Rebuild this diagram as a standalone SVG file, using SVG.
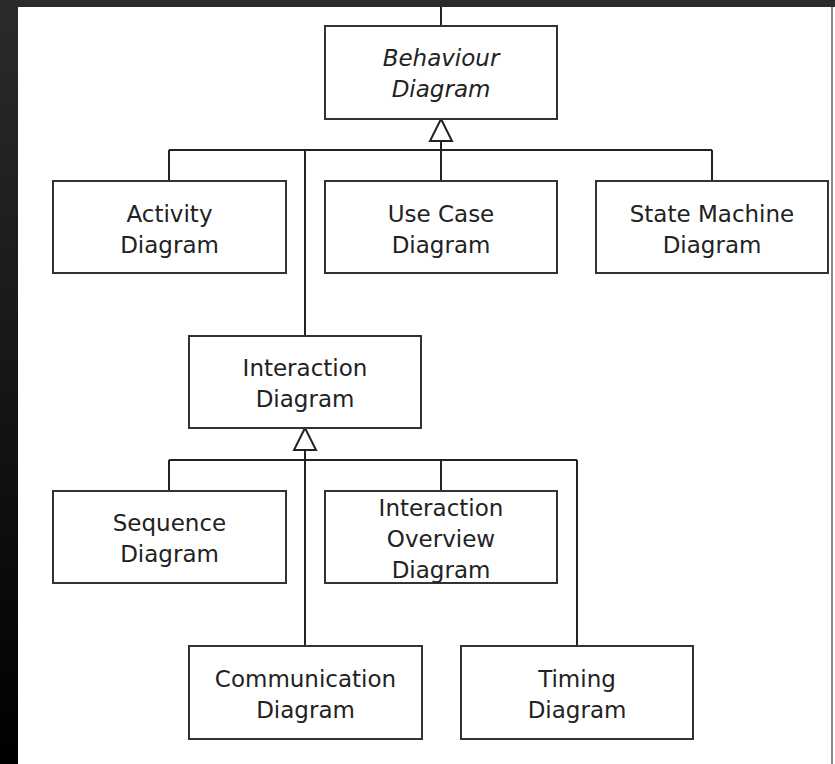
<svg xmlns="http://www.w3.org/2000/svg" width="835" height="764" viewBox="0 0 835 764">
<defs>
<linearGradient id="bg" x1="0" y1="0" x2="0" y2="1">
<stop offset="0" stop-color="#2b2b2b"/>
<stop offset="1" stop-color="#000000"/>
</linearGradient>
<style>
.box{fill:#fff;stroke:#333;stroke-width:2}
.t{font-family:"DejaVu Sans",sans-serif;font-size:23px;fill:#222;text-anchor:middle}
.it{font-style:italic}
.ln{stroke:#222;stroke-width:2;fill:none}
.tri{fill:#fff;stroke:#222;stroke-width:2;stroke-linejoin:miter}
</style>
</defs>
<rect x="0" y="0" width="835" height="764" fill="#fff"/>
<rect x="0" y="0" width="18" height="764" fill="url(#bg)"/>
<rect x="0" y="0" width="835" height="7" fill="#2b2b2b"/>
<line x1="832" y1="7" x2="832" y2="764" stroke="#8a8a8a" stroke-width="2"/>
<g id="connectors">
<line class="ln" x1="441" y1="7" x2="441" y2="26"/>
<line class="ln" x1="169" y1="150" x2="712" y2="150"/>
<line class="ln" x1="441" y1="141" x2="441" y2="181"/>
<line class="ln" x1="169" y1="150" x2="169" y2="181"/>
<line class="ln" x1="712" y1="150" x2="712" y2="181"/>
<line class="ln" x1="305" y1="150" x2="305" y2="336"/>
<polygon class="tri" points="441,119 452,141 430,141"/>
<line class="ln" x1="169" y1="460" x2="577" y2="460"/>
<line class="ln" x1="305" y1="450" x2="305" y2="646"/>
<line class="ln" x1="169" y1="460" x2="169" y2="491"/>
<line class="ln" x1="441" y1="460" x2="441" y2="491"/>
<line class="ln" x1="577" y1="460" x2="577" y2="646"/>
<polygon class="tri" points="305,428 316,450 294,450"/>
</g>
<g id="behaviour">
<rect class="box" x="325" y="26" width="232" height="93"/>
<text class="t it" x="441" y="66">Behaviour</text>
<text class="t it" x="441" y="97">Diagram</text>
</g>
<g id="activity">
<rect class="box" x="53" y="181" width="233" height="92"/>
<text class="t" x="169.5" y="222">Activity</text>
<text class="t" x="169.5" y="253">Diagram</text>
</g>
<g id="usecase">
<rect class="box" x="325" y="181" width="232" height="92"/>
<text class="t" x="441" y="222">Use Case</text>
<text class="t" x="441" y="253">Diagram</text>
</g>
<g id="statemachine">
<rect class="box" x="596" y="181" width="232" height="92"/>
<text class="t" x="712" y="222">State Machine</text>
<text class="t" x="712" y="253">Diagram</text>
</g>
<g id="interaction">
<rect class="box" x="189" y="336" width="232" height="92"/>
<text class="t" x="305" y="376">Interaction</text>
<text class="t" x="305" y="407">Diagram</text>
</g>
<g id="sequence">
<rect class="box" x="53" y="491" width="233" height="92"/>
<text class="t" x="169.5" y="531">Sequence</text>
<text class="t" x="169.5" y="562">Diagram</text>
</g>
<g id="interactionoverview">
<rect class="box" x="325" y="491" width="232" height="92"/>
<text class="t" x="441" y="516">Interaction</text>
<text class="t" x="441" y="547">Overview</text>
<text class="t" x="441" y="578">Diagram</text>
</g>
<g id="communication">
<rect class="box" x="189" y="646" width="233" height="93"/>
<text class="t" x="305.5" y="687">Communication</text>
<text class="t" x="305.5" y="718">Diagram</text>
</g>
<g id="timing">
<rect class="box" x="461" y="646" width="232" height="93"/>
<text class="t" x="577" y="687">Timing</text>
<text class="t" x="577" y="718">Diagram</text>
</g>
</svg>
